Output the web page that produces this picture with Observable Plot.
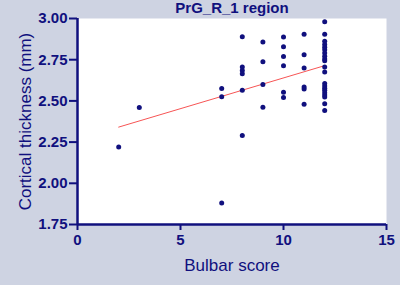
<!DOCTYPE html>
<html>
<head>
<meta charset="utf-8">
<script src="https://cdn.jsdelivr.net/npm/d3@7"></script>
<script src="https://cdn.jsdelivr.net/npm/@observablehq/plot@0.6"></script>
<style>
  html, body { margin: 0; padding: 0; background: #ced3e2; }
  #chart { width: 400px; height: 285px; }
</style>
</head>
<body>
<div id="chart"></div>
<script>
const title = "PrG_R_1 region";
const xLabel = "Bulbar score";
const yLabel = "Cortical thickness (mm)";
const xTicks = [0, 5, 10, 15];
const yTicks = [1.75, 2.00, 2.25, 2.50, 2.75, 3.00];

const bulbarScore = [
  2,
  3,
  7, 7, 7,
  8, 8, 8, 8, 8, 8,
  9, 9, 9, 9,
  10, 10, 10, 10, 10, 10,
  11, 11, 11, 11, 11, 11,
  12, 12, 12, 12, 12, 12, 12, 12, 12, 12, 12, 12, 12, 12, 12, 12, 12, 12, 12, 12, 12
];
const thickness = [
  2.22,
  2.46,
  2.575, 2.525, 1.88,
  2.89, 2.705, 2.685, 2.665, 2.565, 2.29,
  2.858, 2.738, 2.60, 2.462,
  2.888, 2.828, 2.769, 2.713, 2.553, 2.52,
  2.905, 2.78, 2.70, 2.584, 2.572, 2.48,
  2.98, 2.905, 2.862, 2.842, 2.826, 2.81, 2.79, 2.771, 2.755, 2.743, 2.706, 2.676,
  2.605, 2.591, 2.577, 2.564, 2.55, 2.536, 2.524, 2.483, 2.441
];

// fitted regression line endpoints
const fitX = [2, 12];
const fitY = [2.341, 2.714];

const points = bulbarScore.map((x, i) => ({x, y: thickness[i]}));
const fit = fitX.map((x, i) => ({x, y: fitY[i]}));

const navy = "#10107e";

const chart = Plot.plot({
  width: 400,
  height: 285,
  marginLeft: 77,
  marginRight: 14,
  marginTop: 18,
  marginBottom: 61,
  style: {background: "#ced3e2", fontFamily: "'Liberation Sans', Arial, sans-serif", color: navy},
  x: {domain: [0, 15]},
  y: {domain: [1.75, 3.00]},
  marks: [
    Plot.frame({fill: "white", stroke: null}),
    Plot.axisX({ticks: xTicks, tickSize: 6, tickPadding: 4, tickFormat: d => String(d), fontSize: 15, fontWeight: "bold", stroke: navy, strokeWidth: 2, fill: navy, label: null}),
    Plot.axisY({ticks: yTicks, tickSize: 8, tickPadding: 2, tickFormat: d => d.toFixed(2), fontSize: 15, fontWeight: "bold", stroke: navy, strokeWidth: 2, fill: navy, label: null}),
    Plot.ruleX([0], {stroke: navy, strokeWidth: 2.5}),
    Plot.ruleY([1.75], {stroke: navy, strokeWidth: 2.5}),
    Plot.line(fit, {x: "x", y: "y", stroke: "#f75555", strokeWidth: 1}),
    Plot.dot(points, {x: "x", y: "y", r: 2.5, fill: navy, stroke: null}),
    Plot.text([title], {frameAnchor: "top", lineAnchor: "middle", dy: -10, fontSize: 15, fontWeight: "bold", fill: navy}),
    Plot.text([xLabel], {frameAnchor: "bottom", dy: 46, fontSize: 17, fill: navy}),
    Plot.text([yLabel], {frameAnchor: "left", textAnchor: "middle", dx: -52, rotate: -90, fontSize: 17, fill: navy})
  ]
});
document.getElementById("chart").appendChild(chart);
</script>
</body>
</html>
